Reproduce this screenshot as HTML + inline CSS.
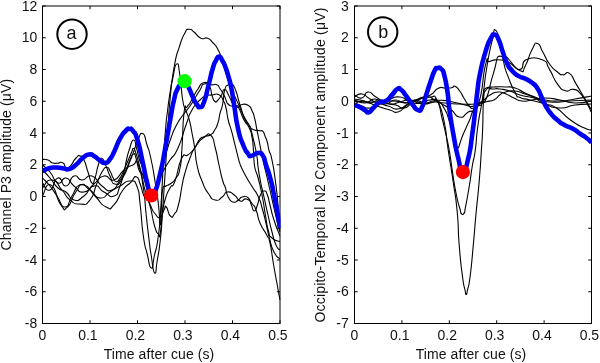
<!DOCTYPE html>
<html><head><meta charset="utf-8"><title>Figure</title>
<style>html,body{margin:0;padding:0;background:#fff;width:600px;height:363px;overflow:hidden}</style></head>
<body>
<svg width="600" height="363" viewBox="0 0 600 363" style="display:block;position:absolute;left:0;top:0">
<rect width="600" height="363" fill="#fff"/>
<rect x="42.5" y="6.0" width="237.5" height="317.5" fill="#fff" stroke="#000" stroke-width="1"/><path d="M42.50,323.5v-3.2M42.50,6.0v3.2M90.00,323.5v-3.2M90.00,6.0v3.2M137.50,323.5v-3.2M137.50,6.0v3.2M185.00,323.5v-3.2M185.00,6.0v3.2M232.50,323.5v-3.2M232.50,6.0v3.2M280.00,323.5v-3.2M280.00,6.0v3.2M42.5,6.00h3.2M280.0,6.00h-3.2M42.5,37.75h3.2M280.0,37.75h-3.2M42.5,69.50h3.2M280.0,69.50h-3.2M42.5,101.25h3.2M280.0,101.25h-3.2M42.5,133.00h3.2M280.0,133.00h-3.2M42.5,164.75h3.2M280.0,164.75h-3.2M42.5,196.50h3.2M280.0,196.50h-3.2M42.5,228.25h3.2M280.0,228.25h-3.2M42.5,260.00h3.2M280.0,260.00h-3.2M42.5,291.75h3.2M280.0,291.75h-3.2M42.5,323.50h3.2M280.0,323.50h-3.2" stroke="#000" stroke-width="1" fill="none"/>
<rect x="354.5" y="6.0" width="237.0" height="317.5" fill="#fff" stroke="#000" stroke-width="1"/><path d="M354.50,323.5v-3.2M354.50,6.0v3.2M401.90,323.5v-3.2M401.90,6.0v3.2M449.30,323.5v-3.2M449.30,6.0v3.2M496.70,323.5v-3.2M496.70,6.0v3.2M544.10,323.5v-3.2M544.10,6.0v3.2M591.50,323.5v-3.2M591.50,6.0v3.2M354.5,6.00h3.2M591.5,6.00h-3.2M354.5,37.75h3.2M591.5,37.75h-3.2M354.5,69.50h3.2M591.5,69.50h-3.2M354.5,101.25h3.2M591.5,101.25h-3.2M354.5,133.00h3.2M591.5,133.00h-3.2M354.5,164.75h3.2M591.5,164.75h-3.2M354.5,196.50h3.2M591.5,196.50h-3.2M354.5,228.25h3.2M591.5,228.25h-3.2M354.5,260.00h3.2M591.5,260.00h-3.2M354.5,291.75h3.2M591.5,291.75h-3.2M354.5,323.50h3.2M591.5,323.50h-3.2" stroke="#000" stroke-width="1" fill="none"/>
<clipPath id="cl"><rect x="42.5" y="6.0" width="238.0" height="317.5"/></clipPath>
<clipPath id="cr"><rect x="354.5" y="6.0" width="237.5" height="317.5"/></clipPath>
<g clip-path="url(#cl)" fill="none" stroke-linejoin="round" stroke-linecap="butt">
<path d="M42.5,178.0C45.0,180.7 45.2,180.0 50.0,186.0C54.8,192.0 52.0,189.0 57.0,196.0C62.0,203.0 60.0,207.0 65.0,207.0C70.0,207.0 67.0,203.3 72.0,196.0C77.0,188.7 74.0,187.0 80.0,185.0C86.0,183.0 83.3,185.7 90.0,190.0C96.7,194.3 93.3,197.3 100.0,198.0C106.7,198.7 103.3,196.0 110.0,192.0C116.7,188.0 113.3,189.7 120.0,186.0C126.7,182.3 124.3,180.7 130.0,181.0C135.7,181.3 133.8,179.0 137.2,187.0C140.2,195.0 138.2,189.0 140.2,205.0C142.2,221.0 140.9,218.7 143.2,235.0C145.5,251.3 144.5,243.0 147.2,254.0C149.9,265.0 148.9,267.3 151.3,268.0C153.7,268.7 152.0,266.7 154.3,256.0C156.6,245.3 156.1,253.0 158.3,236.0C160.5,219.0 159.3,230.3 161.0,205.0C162.7,179.7 162.0,185.0 163.5,160.0C165.0,135.0 164.2,146.0 165.5,130.0C166.8,114.0 165.9,124.3 167.4,112.0C168.9,99.7 168.2,104.1 170.0,93.0C171.8,81.9 170.5,88.5 172.7,78.8C174.9,69.1 174.3,64.9 176.7,64.0C179.1,63.1 178.0,64.0 180.0,76.0C182.0,88.0 180.7,88.4 182.7,100.0C184.7,111.6 183.8,104.0 186.0,110.7C188.2,117.4 187.3,112.6 189.3,120.0C191.3,127.4 190.2,123.7 192.0,133.0C193.8,142.3 193.0,137.3 194.7,148.0C196.4,158.7 194.7,154.0 197.0,165.0C199.4,176.0 198.3,171.7 202.0,181.0C205.7,190.3 203.6,186.7 208.0,193.0C212.4,199.3 210.5,198.7 215.2,200.0C219.9,201.3 218.2,199.7 222.2,197.0C226.2,194.3 223.2,192.7 227.2,192.0C231.2,191.3 229.9,192.0 234.3,195.0C238.7,198.0 236.3,199.7 240.3,201.0C244.3,202.3 242.3,198.0 246.3,199.0C250.3,200.0 249.0,200.0 252.4,204.0C255.8,208.0 253.9,204.7 256.4,211.0C258.9,217.3 256.6,215.0 260.0,223.0C263.4,231.0 263.4,228.3 266.7,235.0C270.0,241.7 267.8,233.7 270.0,243.0C272.2,252.3 271.1,250.0 273.3,263.0C275.5,276.0 274.5,269.7 276.7,282.0C278.9,294.3 278.9,294.0 280.0,300.0" stroke="#000" stroke-width="1.1"/>
<path d="M42.5,188.0C45.7,185.3 45.5,179.3 52.0,180.0C58.5,180.7 56.0,183.3 62.0,190.0C68.0,196.7 64.0,195.3 70.0,200.0C76.0,204.7 73.3,204.0 80.0,204.0C86.7,204.0 84.4,206.7 90.0,200.0C95.6,193.3 92.7,193.3 96.7,184.0C100.7,174.7 98.7,177.5 102.0,172.0C105.3,166.5 104.0,167.8 106.7,167.5C109.4,167.2 107.8,167.4 110.0,171.0C112.2,174.6 111.1,174.7 113.3,178.3C115.5,181.9 114.5,181.8 116.7,181.7C118.9,181.6 117.8,181.3 120.0,178.0C122.2,174.7 120.5,177.7 123.3,171.7C126.1,165.7 125.5,166.6 128.3,160.0C131.1,153.4 130.0,155.8 131.7,152.0C133.3,148.2 132.0,148.5 133.3,148.5C134.6,148.5 133.6,146.8 135.5,152.0C137.4,157.2 136.8,156.0 139.0,164.0C141.2,172.0 140.0,167.3 142.0,176.0C144.0,184.7 142.2,180.3 145.0,190.0C147.8,199.7 146.9,197.0 150.3,205.0C153.7,213.0 152.0,210.0 155.3,214.0C158.6,218.0 157.4,218.3 160.3,217.0C163.2,215.7 162.0,213.3 164.0,210.0C166.0,206.7 164.2,205.0 166.3,207.0C168.4,209.0 167.7,213.7 170.4,216.0C173.1,218.3 171.7,217.7 174.4,214.0C177.1,210.3 175.9,214.3 178.4,205.0C180.9,195.7 180.0,196.0 182.0,186.0C184.0,176.0 182.0,184.3 184.4,175.0C187.1,165.7 186.1,167.7 190.0,158.0C193.9,148.3 191.3,152.8 196.0,146.0C200.7,139.2 199.0,141.0 204.0,137.5C209.0,134.0 207.2,132.0 211.0,135.5C214.8,139.0 212.6,138.2 215.3,148.0C218.0,157.8 216.5,154.0 219.0,165.0C221.5,176.0 220.7,173.7 222.8,181.0C224.9,188.3 223.4,181.7 225.2,187.0C227.0,192.3 225.5,192.0 228.2,197.0C230.9,202.0 229.9,201.0 233.3,202.0C236.7,203.0 235.3,201.7 238.3,200.0C241.3,198.3 239.0,197.7 242.3,197.0C245.6,196.3 245.3,195.3 248.3,198.0C251.3,200.7 249.4,200.7 251.4,205.0C253.4,209.3 252.4,211.0 254.4,211.0C256.4,211.0 255.4,210.3 257.4,205.0C259.4,199.7 258.1,199.7 260.4,195.0C262.7,190.3 262.1,191.0 264.4,191.0C266.7,191.0 265.5,190.3 267.4,195.0C269.3,199.7 267.8,196.7 270.0,205.0C272.2,213.3 270.7,209.7 274.0,220.0C277.3,230.3 278.0,230.7 280.0,236.0" stroke="#000" stroke-width="1.1"/>
<path d="M42.5,196.0C45.3,192.3 45.0,182.2 51.0,185.0C57.0,187.8 55.1,197.0 60.6,204.3C66.1,211.6 62.4,211.1 67.5,207.0C72.6,202.9 70.3,199.3 75.8,192.0C81.3,184.7 77.6,183.7 84.0,185.0C90.4,186.3 87.7,188.7 95.0,196.0C102.3,203.3 99.6,204.2 106.0,207.0C112.4,209.8 108.8,209.8 114.3,204.3C119.8,198.8 117.1,197.8 122.6,190.5C128.1,183.2 126.2,186.9 130.8,182.3C135.4,177.7 133.1,175.9 136.3,176.8C139.5,177.7 137.9,178.6 140.5,185.0C143.1,191.4 141.1,190.0 144.0,196.0C146.9,202.0 145.8,193.3 149.2,203.0C152.6,212.7 151.3,214.7 154.3,225.0C157.3,235.3 156.3,231.3 158.3,234.0C160.3,236.7 159.0,239.3 160.3,233.0C161.6,226.7 160.7,226.0 162.3,215.0C163.9,204.0 162.4,209.0 165.0,200.0C167.6,191.0 166.7,194.3 170.0,188.0C173.3,181.7 171.2,190.7 175.0,181.0C178.8,171.3 177.2,167.7 181.4,159.0C185.6,150.3 183.5,158.3 187.7,155.0C191.9,151.7 190.1,154.1 194.0,149.0C197.9,143.9 196.0,143.9 199.3,139.8C202.6,135.7 200.2,138.4 204.0,136.7C207.8,135.0 207.1,136.9 210.7,134.7C214.3,132.5 212.3,134.0 214.7,130.0C217.1,126.0 216.2,128.3 218.0,122.7C219.8,117.1 218.4,119.5 220.0,113.3C221.6,107.1 221.1,111.8 222.7,104.0C224.3,96.2 222.9,96.3 224.7,90.0C226.5,83.7 225.6,87.0 228.0,85.0C230.4,83.0 229.3,81.9 232.0,84.0C234.7,86.1 233.8,85.7 236.0,91.3C238.2,96.9 237.0,95.1 238.7,100.7C240.4,106.3 238.9,101.6 241.0,108.0C243.1,114.4 242.3,114.1 245.0,120.0C247.7,125.9 247.0,121.9 249.2,125.8C251.4,129.7 250.0,126.6 251.5,131.7C253.0,136.8 252.4,135.2 253.8,141.0C255.2,146.8 254.5,143.5 255.6,149.2C256.7,154.9 256.5,152.7 257.2,158.0C257.8,163.3 257.2,157.3 257.8,165.0C258.9,172.7 258.3,170.3 260.4,181.0C262.5,191.7 261.5,185.7 264.0,197.0C266.5,208.3 265.3,203.3 268.0,215.0C270.7,226.7 269.3,222.0 272.0,232.0C274.7,242.0 273.3,239.0 276.0,245.0C278.7,251.0 278.7,248.3 280.0,250.0" stroke="#000" stroke-width="1.1"/>
<path d="M42.5,159.3C44.3,159.5 44.8,158.9 48.0,160.0C51.2,161.1 48.9,161.6 52.0,162.7C55.1,163.8 53.7,163.3 57.3,163.3C60.9,163.3 59.1,161.1 62.7,162.7C66.3,164.3 63.6,169.6 68.0,168.0C72.4,166.4 72.0,162.0 76.0,158.0C80.0,154.0 77.3,155.3 80.0,156.0C82.7,156.7 81.3,154.7 84.0,160.0C86.7,165.3 85.3,164.3 88.0,172.0C90.7,179.7 89.7,181.0 92.0,183.0C94.3,185.0 92.9,184.0 95.0,178.0C97.1,172.0 96.1,171.6 98.3,165.0C100.5,158.4 99.1,158.0 101.7,158.3C104.3,158.6 103.2,160.1 106.0,166.0C108.8,171.9 107.0,170.0 110.0,176.0C113.0,182.0 110.8,183.3 115.0,184.0C119.2,184.7 117.3,186.3 122.6,178.0C127.9,169.7 126.0,170.7 130.8,159.0C135.6,147.3 133.1,151.5 137.0,143.0C140.9,134.5 139.2,132.8 142.5,133.5C145.8,134.2 144.2,136.5 147.0,145.0C149.8,153.5 148.1,145.7 151.0,159.0C153.9,172.3 153.1,169.7 155.6,185.0C158.1,200.3 156.9,191.7 158.5,205.0C160.1,218.3 159.3,225.0 160.3,225.0C161.3,225.0 160.8,216.7 161.5,205.0C162.2,193.3 161.5,196.3 162.5,190.0C164.0,183.7 163.5,188.0 166.0,186.0C168.5,184.0 166.7,186.7 170.0,184.0C173.3,181.3 172.7,183.3 176.0,178.0C179.3,172.7 178.0,178.0 180.0,168.0C182.0,158.0 180.7,166.3 182.0,148.0C183.3,129.7 182.3,126.7 184.0,113.0C185.7,99.3 185.0,110.3 187.0,107.0C189.0,103.7 187.9,106.4 190.0,103.0C192.1,99.6 190.6,101.4 193.3,96.7C196.0,92.0 194.7,93.7 198.0,89.0C201.3,84.3 199.1,84.1 203.3,82.7C207.5,81.3 206.2,84.0 210.7,84.7C215.2,85.4 213.6,83.4 216.7,84.7C219.8,86.0 217.6,85.2 220.0,88.7C222.4,92.2 222.0,91.5 224.0,95.3C226.0,99.1 224.7,97.1 226.0,100.0C227.3,102.9 226.0,102.0 228.0,104.0C230.0,106.0 229.3,105.3 232.0,106.0C234.7,106.7 233.8,105.3 236.0,106.0C238.2,106.7 236.0,103.3 238.7,108.0C241.4,112.7 240.5,113.3 244.0,120.0C247.5,126.7 246.6,122.2 249.3,128.0C252.0,133.8 250.7,130.6 252.0,137.3C253.3,144.0 252.5,138.8 253.3,148.0C254.1,157.2 253.3,154.7 254.4,165.0C256.1,175.3 255.7,168.3 258.4,179.0C261.1,189.7 260.1,185.0 262.4,197.0C264.7,209.0 263.4,203.7 265.4,215.0C267.4,226.3 266.2,223.3 268.4,231.0C270.6,238.7 268.4,234.4 272.0,238.0C275.9,241.6 277.3,240.5 280.0,241.7" stroke="#000" stroke-width="1.1"/>
<path d="M42.5,170.0C45.0,172.7 44.8,172.0 50.0,178.0C55.2,184.0 52.7,183.3 58.0,188.0C63.3,192.7 60.7,188.0 66.0,192.0C71.3,196.0 68.0,198.7 74.0,200.0C80.0,201.3 77.3,200.7 84.0,196.0C90.7,191.3 87.3,187.3 94.0,186.0C100.7,184.7 97.3,188.7 104.0,192.0C110.7,195.3 108.7,198.0 114.0,196.0C119.3,194.0 116.7,194.0 120.0,186.0C123.3,178.0 121.8,180.7 124.0,172.0C126.2,163.3 124.7,167.7 126.5,160.0C128.3,152.3 127.2,155.7 129.5,149.0C131.8,142.3 131.2,140.3 133.5,140.0C135.8,139.7 134.5,141.3 136.5,148.0C138.5,154.7 137.4,153.3 139.5,160.0C141.6,166.7 140.4,160.0 142.8,168.0C145.2,176.0 144.1,174.3 146.8,184.0C149.5,193.7 148.1,193.3 150.8,197.0C153.5,200.7 152.1,200.7 154.8,195.0C157.5,189.3 156.3,191.0 159.0,180.0C161.7,169.0 160.3,172.0 163.0,162.0C165.7,152.0 164.3,158.0 167.0,150.0C169.7,142.0 168.0,146.0 171.0,138.0C174.0,130.0 172.0,133.7 176.0,126.0C180.0,118.3 178.3,121.7 183.0,115.0C187.7,108.3 186.0,111.7 190.0,106.0C194.0,100.3 191.7,103.3 195.0,98.0C198.3,92.7 197.0,94.7 200.0,90.0C203.0,85.3 200.7,84.9 204.0,84.0C207.3,83.1 207.3,83.5 210.0,87.3C212.0,91.1 210.4,90.6 212.0,95.3C213.6,100.0 212.7,99.7 214.7,101.3C216.7,102.9 215.8,102.0 218.0,100.0C220.2,98.0 219.1,98.8 221.3,95.3C223.5,91.8 222.1,89.3 224.7,89.5C227.3,89.7 226.2,91.2 229.0,96.0C231.8,100.8 230.2,100.2 233.0,104.0C235.8,107.8 234.5,107.1 237.3,107.3C240.1,107.5 237.7,105.4 241.3,104.7C244.9,104.0 244.4,103.3 248.0,105.3C251.6,107.3 249.8,106.2 252.0,110.7C254.2,115.2 253.1,112.5 254.7,118.7C256.3,124.9 255.5,123.0 256.8,129.3C258.1,135.6 257.3,131.7 258.5,137.5C259.7,143.3 258.8,139.3 260.3,146.8C261.8,154.3 260.9,150.6 263.0,160.0C265.1,169.4 264.2,165.0 266.5,175.0C268.8,185.0 267.5,179.0 270.0,190.0C272.5,201.0 271.3,196.3 274.0,208.0C276.7,219.7 276.0,217.0 278.0,225.0C280.0,233.0 279.3,229.7 280.0,232.0" stroke="#000" stroke-width="1.1"/>
<path d="M42.5,165.0C45.0,167.3 44.8,166.0 50.0,172.0C55.2,178.0 52.7,181.0 58.0,183.0C63.3,185.0 60.7,177.0 66.0,178.0C71.3,179.0 68.0,181.3 74.0,186.0C80.0,190.7 77.3,192.7 84.0,192.0C90.7,191.3 87.3,189.3 94.0,184.0C100.7,178.7 97.3,177.3 104.0,176.0C110.7,174.7 107.3,182.0 114.0,180.0C120.7,178.0 117.7,175.0 124.0,170.0C130.3,165.0 128.3,167.0 133.0,165.0C137.7,163.0 134.6,156.7 138.0,164.0C141.4,171.3 140.5,170.0 143.2,187.0C145.9,204.0 144.2,197.0 146.2,215.0C148.2,233.0 147.5,227.3 149.2,241.0C150.9,254.7 149.5,245.3 151.3,256.0C153.1,266.7 152.7,271.7 154.7,273.0C156.7,274.3 155.4,271.0 157.3,260.0C159.2,249.0 158.6,255.0 160.3,240.0C162.0,225.0 161.1,231.7 162.3,215.0C163.5,198.3 162.8,208.3 164.0,190.0C165.2,171.7 164.7,180.0 166.0,160.0C167.3,140.0 166.7,150.0 168.0,130.0C169.3,110.0 168.0,120.7 170.0,100.0C172.0,79.3 170.9,85.8 174.0,68.0C177.1,50.2 175.8,58.2 179.4,46.7C183.0,35.2 181.6,39.2 184.7,33.4C187.8,27.6 185.7,29.8 188.8,29.3C191.9,28.8 190.0,29.0 194.0,32.0C198.0,35.0 196.3,36.1 200.8,38.2C205.3,40.3 203.5,36.7 207.5,38.2C211.5,39.7 209.3,39.0 212.8,42.7C216.3,46.4 214.9,43.6 218.0,49.4C221.1,55.2 219.3,52.0 222.0,60.0C224.7,68.0 222.8,63.6 226.0,73.4C229.2,83.2 228.5,81.5 231.5,89.4C234.5,97.3 232.6,91.9 235.0,97.0C237.4,102.1 236.1,99.0 238.7,104.7C241.3,110.4 239.2,107.1 242.7,114.0C246.2,120.9 246.0,120.2 249.3,125.3C252.6,130.4 249.3,127.5 252.7,129.3C256.3,131.1 256.6,130.0 260.0,130.7C262.9,131.4 261.2,129.6 262.9,131.4C264.6,133.2 263.5,132.4 265.0,136.0C266.5,139.6 266.0,137.4 267.3,142.2C268.6,147.0 267.5,144.5 269.0,150.3C270.5,156.1 269.8,149.5 271.9,159.7C274.0,169.9 273.4,165.9 275.4,181.0C277.4,196.1 276.5,188.7 278.0,205.0C279.5,221.3 279.3,221.7 280.0,230.0" stroke="#000" stroke-width="1.1"/>
<path d="M42.5,183.0C45.0,185.3 44.8,191.7 50.0,190.0C55.2,188.3 52.7,179.3 58.0,178.0C63.3,176.7 60.7,186.7 66.0,186.0C71.3,185.3 68.7,178.0 74.0,176.0C79.3,174.0 76.0,180.0 82.0,180.0C88.0,180.0 85.3,174.0 92.0,176.0C98.7,178.0 95.3,181.3 102.0,186.0C108.7,190.7 106.0,192.0 112.0,190.0C118.0,188.0 115.3,186.7 120.0,180.0C124.7,173.3 122.7,176.7 126.0,170.0C129.3,163.3 127.5,165.3 130.0,160.0C132.5,154.7 131.5,154.7 133.5,154.0C135.5,153.3 134.2,152.7 136.0,158.0C137.8,163.3 136.7,164.3 139.0,170.0C141.3,175.7 140.2,169.0 142.8,175.0C145.4,181.0 144.1,180.0 146.8,188.0C149.5,196.0 148.1,196.3 150.8,199.0C153.5,201.7 152.4,200.3 154.8,196.0C157.2,191.7 155.9,192.7 158.0,186.0C160.1,179.3 158.7,182.0 161.0,176.0C163.3,170.0 162.0,173.3 165.0,168.0C168.0,162.7 165.7,166.7 170.0,160.0C174.3,153.3 172.7,159.7 178.0,148.0C183.3,136.3 181.3,137.7 186.0,125.0C190.7,112.3 187.3,118.3 192.0,110.0C196.7,101.7 195.3,104.7 200.0,100.0C204.7,95.3 202.0,97.7 206.0,96.0C210.0,94.3 207.7,95.4 212.0,95.0C216.3,94.6 215.3,93.0 219.0,94.7C222.7,96.4 220.7,95.6 223.0,100.0C225.3,104.4 224.3,101.3 226.0,108.0C227.7,114.7 226.3,112.1 228.2,120.0C230.1,127.9 229.4,123.1 231.7,131.7C234.0,140.3 232.9,136.4 235.2,145.7C237.5,155.0 237.0,153.3 238.7,159.7C240.3,166.1 238.7,159.2 240.3,165.0C242.8,170.8 242.3,169.7 246.3,177.0C250.3,184.3 248.4,180.3 252.4,187.0C256.4,193.7 255.1,189.7 258.4,197.0C261.7,204.3 259.7,199.7 262.4,209.0C265.1,218.3 264.1,215.3 266.4,225.0C268.7,234.7 266.9,229.0 269.4,238.0C271.9,247.0 270.5,245.0 274.0,252.0C277.5,259.0 278.0,256.7 280.0,259.0" stroke="#000" stroke-width="1.1"/>
<path d="M42.5,171.0C44.8,170.1 44.8,169.5 49.3,168.3C53.8,167.1 51.5,167.5 56.0,167.5C60.5,167.5 58.3,167.7 62.7,168.2C67.1,168.7 64.9,170.2 69.3,169.0C73.7,167.8 71.5,168.4 76.0,164.7C80.5,161.0 78.3,161.4 82.7,158.0C87.1,154.6 85.3,155.0 89.3,154.5C93.3,154.0 91.1,154.5 94.7,156.5C98.3,158.5 96.4,158.4 100.0,160.5C103.6,162.6 102.2,163.3 105.5,162.8C108.8,162.3 107.0,162.9 110.0,159.0C113.0,155.1 111.2,157.8 114.5,151.0C117.8,144.2 116.2,145.5 120.0,138.7C123.8,131.9 122.8,133.7 126.0,130.5C129.2,127.3 127.2,128.8 129.5,129.0C131.8,129.2 130.3,127.3 133.0,131.0C135.7,134.7 134.2,129.4 137.5,140.0C140.8,150.6 139.7,148.9 142.8,162.7C145.9,176.5 144.1,171.0 146.8,181.4C149.5,191.8 148.1,190.5 150.8,194.0C153.5,197.5 151.7,198.9 154.8,192.0C157.9,185.1 156.6,188.5 160.2,173.4C163.8,158.3 162.1,165.2 165.5,146.7C168.9,128.2 167.7,133.6 170.5,118.0C173.3,102.4 171.8,109.3 174.0,100.0C176.2,90.7 174.4,95.7 177.0,90.0C179.6,84.3 179.1,85.8 181.7,83.0C184.3,80.2 182.5,80.3 184.7,81.5C186.9,82.7 185.4,81.1 188.3,86.7C191.2,92.3 190.4,92.4 193.3,98.3C196.2,104.2 194.8,101.6 197.0,104.5C199.2,107.4 197.7,107.8 200.0,107.0C202.3,106.2 201.1,109.3 204.0,102.0C206.9,94.7 205.7,96.0 208.6,85.0C211.5,74.0 210.1,77.2 212.6,69.0C215.1,60.8 213.8,64.6 216.0,60.5C218.2,56.4 217.1,56.4 219.3,56.6C221.5,56.8 220.6,57.9 222.5,61.0C224.4,64.1 223.0,60.8 225.0,66.0C227.0,71.2 226.3,68.7 228.5,76.7C230.7,84.7 229.8,80.2 231.7,90.0C233.6,99.8 232.3,93.5 234.3,106.0C236.3,118.5 235.0,114.9 237.8,127.6C240.6,140.3 239.4,135.4 242.8,144.0C246.2,152.6 245.0,149.6 247.9,153.5C250.8,157.4 248.3,155.9 251.6,155.7C254.9,155.5 254.1,153.0 257.9,153.0C261.7,153.0 260.2,151.7 262.9,155.7C265.6,159.7 263.5,157.2 266.0,165.0C268.5,172.8 267.8,169.0 270.5,179.0C273.2,189.0 271.7,183.7 274.0,195.0C276.3,206.3 275.5,202.0 277.5,213.0C279.5,224.0 279.2,223.0 280.0,228.0" stroke="#0000f5" stroke-width="4.6"/>
</g>
<g clip-path="url(#cr)" fill="none" stroke-linejoin="round" stroke-linecap="butt">
<path d="M354.5,100.0C358.0,101.0 358.2,103.3 365.0,103.0C371.8,102.7 368.3,98.7 375.0,99.0C381.7,99.3 378.3,103.7 385.0,104.0C391.7,104.3 388.3,100.3 395.0,100.0C401.7,99.7 398.3,103.0 405.0,103.0C411.7,103.0 408.3,100.0 415.0,100.0C421.7,100.0 419.0,102.7 425.0,103.0C431.0,103.3 428.7,101.3 433.0,101.0C437.3,100.7 434.3,95.0 438.0,102.0C441.7,109.0 440.8,106.0 444.2,122.0C447.6,138.0 445.2,130.0 448.2,150.0C451.2,170.0 450.2,161.3 453.2,182.0C456.2,202.7 455.2,191.0 457.2,212.0C459.2,233.0 457.5,224.0 459.2,245.0C460.9,266.0 460.4,260.0 462.3,275.0C464.2,290.0 463.7,283.7 465.0,290.0C466.2,296.3 465.4,294.0 466.2,294.0C467.0,294.0 466.2,296.3 467.5,290.0C468.9,283.7 468.4,290.0 470.3,275.0C472.2,260.0 471.4,265.0 473.3,245.0C475.2,225.0 473.9,236.7 475.9,215.0C477.9,193.3 477.5,201.7 479.3,180.0C481.1,158.3 480.3,166.7 481.4,150.0C482.5,133.3 481.9,146.0 482.6,130.0C483.3,114.0 482.6,115.3 483.4,102.0C484.5,88.7 483.4,94.3 486.0,90.0C489.2,85.7 488.3,89.3 493.0,89.0C497.7,88.7 494.3,88.3 500.0,89.0C505.7,89.7 503.3,89.0 510.0,91.0C516.7,93.0 512.0,92.7 520.0,95.0C528.0,97.3 524.0,95.7 534.0,98.0C544.0,100.3 538.0,101.0 550.0,102.0C562.0,103.0 556.2,101.7 570.0,101.0C583.8,100.3 584.3,100.3 591.5,100.0" stroke="#000" stroke-width="1.1"/>
<path d="M354.5,97.0C357.0,96.0 356.8,93.3 362.0,94.0C367.2,94.7 364.0,96.0 370.0,99.0C376.0,102.0 373.3,103.0 380.0,103.0C386.7,103.0 383.3,101.0 390.0,99.0C396.7,97.0 393.3,96.3 400.0,97.0C406.7,97.7 403.3,100.3 410.0,101.0C416.7,101.7 413.3,100.3 420.0,99.0C426.7,97.7 424.3,96.7 430.0,97.0C435.7,97.3 433.0,93.0 437.0,100.0C441.0,107.0 439.0,106.3 442.0,118.0C445.0,129.7 443.6,124.3 446.0,135.0C448.4,145.7 447.1,138.3 449.2,150.0C451.3,161.7 449.9,155.3 452.2,170.0C454.5,184.7 453.5,180.7 456.2,194.0C458.9,207.3 458.5,203.5 460.3,210.0C461.5,216.5 460.7,211.9 461.5,213.4C462.3,214.9 461.9,214.6 462.7,214.5C463.5,214.4 463.1,215.2 464.0,213.0C464.9,210.8 464.0,217.0 465.3,208.0C467.1,199.0 467.0,200.0 469.3,186.0C471.6,172.0 470.3,178.0 472.3,166.0C474.3,154.0 473.4,163.7 475.3,150.0C477.2,136.3 475.5,142.5 478.0,125.0C480.5,107.5 479.8,116.5 482.7,97.5C485.6,78.5 483.6,86.7 486.7,68.0C489.8,49.3 488.9,53.8 492.0,41.4C495.1,29.0 493.0,28.0 496.1,30.7C499.2,33.4 497.0,39.6 501.4,49.4C505.8,59.2 503.2,52.9 509.4,60.0C515.6,67.1 514.7,68.9 520.1,70.7C525.5,72.5 521.5,72.5 525.5,65.4C529.5,58.3 528.1,56.7 532.1,49.4C536.1,42.1 533.9,42.6 537.5,43.5C541.1,44.4 538.8,45.2 542.8,52.0C546.8,58.8 544.6,57.3 549.5,64.0C554.4,70.7 553.0,68.4 557.5,72.0C562.0,75.6 558.9,74.3 562.9,74.8C566.9,75.3 565.1,70.3 569.5,73.4C573.9,76.5 571.3,76.1 576.2,84.1C581.1,92.1 579.1,88.9 584.2,97.5C589.3,106.1 589.1,105.8 591.5,110.0" stroke="#000" stroke-width="1.1"/>
<path d="M354.5,103.0C357.0,104.0 356.8,104.3 362.0,106.0C367.2,107.7 364.7,108.7 370.0,108.0C375.3,107.3 372.0,104.7 378.0,104.0C384.0,103.3 381.3,104.3 388.0,106.0C394.7,107.7 391.3,109.7 398.0,109.0C404.7,108.3 401.3,107.3 408.0,104.0C414.7,100.7 411.3,101.3 418.0,99.0C424.7,96.7 422.0,96.3 428.0,97.0C434.0,97.7 428.6,97.0 436.0,101.0C443.4,105.0 442.5,103.7 450.2,109.0C457.9,114.3 453.2,116.0 459.2,117.0C465.2,118.0 461.9,116.3 468.3,112.0C474.7,107.7 472.6,119.5 478.3,104.0C484.0,88.5 481.7,79.6 485.4,65.4C489.1,51.2 485.4,63.2 489.4,61.4C494.7,59.6 494.7,59.6 501.4,60.0C508.1,60.4 503.2,59.6 509.4,62.7C515.6,65.8 514.7,70.3 520.1,69.4C525.5,68.5 520.1,63.1 525.5,60.0C533.1,56.9 534.8,56.9 542.8,60.0C549.5,63.1 544.6,61.4 549.5,69.4C554.4,77.4 552.2,77.0 557.5,84.1C562.8,91.2 560.2,89.0 565.5,90.8C570.8,92.6 568.2,88.1 573.5,89.4C578.8,90.7 576.2,88.6 581.5,94.8C586.8,101.0 586.2,102.4 589.5,108.1C591.5,113.8 590.8,110.7 591.5,112.0" stroke="#000" stroke-width="1.1"/>
<path d="M354.5,99.0C357.7,99.7 358.2,99.3 364.0,101.0C369.8,102.7 366.7,102.0 372.0,104.0C377.3,106.0 374.0,105.0 380.0,107.0C386.0,109.0 384.0,108.3 390.0,110.0C396.0,111.7 392.7,113.3 398.0,112.0C403.3,110.7 400.7,109.7 406.0,106.0C411.3,102.3 408.0,101.7 414.0,101.0C420.0,100.3 417.3,103.7 424.0,104.0C430.7,104.3 427.0,102.3 434.0,102.0C441.0,101.7 436.3,102.3 445.0,103.0C453.7,103.7 450.0,103.7 460.0,104.0C470.0,104.3 467.7,104.7 475.0,104.0C482.0,103.3 478.1,104.2 482.0,102.0C485.9,99.8 482.9,107.0 486.7,97.5C490.5,88.0 488.9,87.2 493.4,73.4C497.9,59.6 495.6,56.1 500.1,56.1C504.6,56.1 501.9,61.4 506.8,73.4C511.7,85.4 510.4,84.1 514.8,92.1C519.2,100.1 515.0,94.9 520.1,97.5C525.2,100.1 521.7,97.8 530.0,100.0C538.3,102.2 536.2,101.3 545.0,104.0C553.8,106.7 547.9,102.7 556.4,108.0C564.9,113.3 561.1,113.3 570.5,120.0C579.9,126.7 577.5,124.7 584.5,128.0C591.5,131.3 589.2,129.3 591.5,130.0" stroke="#000" stroke-width="1.1"/>
<path d="M354.5,101.0C359.7,101.3 358.2,102.0 370.0,102.0C381.8,102.0 376.7,100.7 390.0,101.0C403.3,101.3 397.0,102.3 410.0,103.0C423.0,103.7 419.6,103.9 429.0,103.0C438.3,102.1 430.7,100.7 438.3,100.3C445.9,99.9 442.8,100.1 451.7,101.7C460.6,103.3 457.9,103.5 465.0,105.0C472.1,106.5 467.2,107.0 473.0,106.3C478.8,105.6 477.9,104.5 482.3,103.0C486.3,101.5 482.3,102.8 486.3,101.7C490.3,100.6 489.8,101.9 494.3,99.7C498.8,97.5 496.1,97.5 499.7,95.0C503.3,92.5 499.9,93.6 505.0,92.3C510.1,91.0 508.3,90.4 515.0,91.0C521.7,91.6 518.3,91.7 525.0,94.0C531.7,96.3 528.3,94.7 535.0,98.0C541.7,101.3 536.7,100.7 545.0,104.0C553.3,107.3 550.0,107.7 560.0,108.0C570.0,108.3 564.5,106.3 575.0,105.0C585.5,103.7 586.0,104.3 591.5,104.0" stroke="#000" stroke-width="1.1"/>
<path d="M354.5,95.0C357.0,96.0 357.5,99.0 362.0,98.0C366.5,97.0 363.3,92.3 368.0,92.0C372.7,91.7 370.0,93.3 376.0,97.0C382.0,100.7 379.3,100.3 386.0,103.0C392.7,105.7 390.0,103.3 396.0,105.0C402.0,106.7 398.7,108.7 404.0,108.0C409.3,107.3 406.7,106.0 412.0,103.0C417.3,100.0 413.9,101.7 420.0,99.0C426.1,96.3 424.2,98.6 430.3,95.0C436.4,91.4 433.4,90.6 438.3,88.3C443.2,86.0 440.5,88.2 445.0,88.0C449.5,87.8 448.4,88.3 451.7,87.7C455.0,87.1 452.3,85.2 455.0,86.3C457.7,87.4 456.8,87.2 459.7,91.0C462.6,94.8 460.6,92.8 463.7,97.7C466.8,102.6 465.9,102.2 469.0,105.7C472.1,109.2 470.0,108.2 473.0,108.3C476.0,108.4 474.9,107.8 478.0,106.0C481.1,104.2 480.4,107.6 482.3,103.0C483.7,98.4 482.6,97.2 483.7,92.3C484.8,87.4 483.7,90.1 485.7,88.3C489.2,86.5 487.9,87.4 494.3,87.0C500.7,86.6 498.1,86.7 505.0,87.0C511.9,87.3 508.3,86.0 515.0,88.0C521.7,90.0 518.3,90.0 525.0,93.0C531.7,96.0 528.3,94.7 535.0,97.0C541.7,99.3 536.7,98.7 545.0,100.0C553.3,101.3 550.0,101.3 560.0,101.0C570.0,100.7 564.5,100.7 575.0,99.0C585.5,97.3 586.0,97.0 591.5,96.0" stroke="#000" stroke-width="1.1"/>
<path d="M354.5,104.0C357.0,103.0 356.8,101.3 362.0,101.0C367.2,100.7 364.0,103.3 370.0,103.0C376.0,102.7 373.3,99.7 380.0,100.0C386.7,100.3 383.3,103.3 390.0,104.0C396.7,104.7 393.3,103.3 400.0,102.0C406.7,100.7 403.3,99.7 410.0,100.0C416.7,100.3 413.3,103.0 420.0,103.0C426.7,103.0 424.0,100.7 430.0,100.0C436.0,99.3 433.3,98.3 438.0,101.0C442.7,103.7 440.3,101.7 444.0,108.0C447.7,114.3 446.0,111.0 449.0,120.0C452.0,129.0 450.7,126.7 453.0,135.0C455.3,143.3 454.3,140.7 456.0,145.0C457.7,149.3 456.7,148.7 458.0,148.0C459.3,147.3 458.5,147.0 460.0,143.0C461.5,139.0 460.5,141.0 462.5,136.0C464.5,131.0 463.5,133.7 466.0,128.0C468.5,122.3 468.0,124.0 470.0,119.0C472.0,114.0 470.3,117.0 472.0,113.0C473.7,109.0 472.7,110.3 475.0,107.0C477.3,103.7 476.0,105.3 479.0,103.0C482.0,100.7 480.3,102.7 484.0,100.0C487.7,97.3 485.3,97.7 490.0,95.0C494.7,92.3 492.7,92.3 498.0,92.0C503.3,91.7 500.7,92.0 506.0,94.0C511.3,96.0 508.7,95.7 514.0,98.0C519.3,100.3 516.0,100.3 522.0,101.0C528.0,101.7 524.3,101.0 532.0,100.0C539.7,99.0 535.7,98.0 545.0,98.0C554.3,98.0 550.0,98.3 560.0,100.0C570.0,101.7 564.5,102.7 575.0,103.0C585.5,103.3 586.0,101.7 591.5,101.0" stroke="#000" stroke-width="1.1"/>
<path d="M354.5,105.0C356.3,105.7 356.5,105.4 360.0,107.2C363.5,109.0 362.0,108.6 365.0,110.3C368.0,112.0 366.0,113.3 369.0,112.3C372.0,111.3 370.3,110.6 374.0,107.2C377.7,103.8 375.9,104.3 380.0,102.2C384.1,100.1 382.1,103.3 386.2,100.8C390.3,98.3 388.5,98.5 392.2,94.6C395.9,90.7 394.4,90.5 397.4,89.0C400.4,87.5 398.3,87.6 401.3,90.0C404.3,92.4 402.6,91.5 406.3,96.2C410.0,100.9 408.3,99.5 412.3,104.2C416.3,108.9 414.9,109.6 418.3,110.3C421.7,111.0 419.7,111.6 422.4,106.2C425.1,100.8 423.7,102.2 426.4,94.2C429.1,86.2 427.7,89.8 430.4,82.1C433.1,74.4 432.1,75.7 434.4,71.1C436.7,66.5 435.0,68.8 437.4,68.2C439.8,67.6 439.1,66.6 441.5,69.2C443.9,71.8 442.5,68.4 444.5,76.1C446.5,83.8 445.8,80.9 447.5,92.2C449.2,103.5 447.6,96.1 449.5,110.0C451.4,123.9 450.4,118.0 453.3,134.0C456.2,150.0 455.0,145.3 458.2,158.0C461.4,170.7 459.5,172.0 462.9,172.0C466.3,172.0 465.2,170.7 468.3,158.0C471.4,145.3 470.0,150.0 472.3,134.0C474.6,118.0 473.6,124.0 475.3,110.0C477.0,96.0 475.7,104.2 477.3,92.0C478.9,79.8 477.4,86.7 480.1,73.4C482.8,60.1 481.9,63.7 485.4,52.1C488.9,40.5 487.6,44.5 490.7,38.7C493.8,32.9 492.1,34.3 494.8,34.7C497.5,35.1 496.1,34.2 498.8,40.0C501.5,45.8 500.1,44.4 502.8,52.0C505.5,59.6 503.7,56.5 506.8,62.7C509.9,68.9 508.1,66.2 512.1,70.7C516.1,75.2 514.3,73.4 518.8,76.1C523.3,78.8 521.1,76.6 525.5,78.8C529.9,81.0 528.1,79.6 532.1,82.8C536.1,86.0 534.4,83.8 537.5,88.5C540.6,93.2 538.9,91.5 541.5,97.0C544.1,102.5 542.3,99.7 545.3,105.0C548.3,110.3 546.4,108.0 550.4,113.0C554.4,118.0 552.7,116.0 557.4,120.0C562.1,124.0 559.4,122.2 564.4,125.0C569.4,127.8 567.1,125.5 572.5,128.5C577.9,131.5 575.8,130.8 580.5,134.0C585.2,137.2 582.8,135.2 586.5,138.0C590.2,140.8 589.8,141.0 591.5,142.5" stroke="#0000f5" stroke-width="4.6"/>
</g>
<circle cx="151.2" cy="195.5" r="7.1" fill="#ff0000"/>
<circle cx="184.6" cy="81.2" r="7.1" fill="#00ff00"/>
<circle cx="462.9" cy="172.1" r="7.1" fill="#ff0000"/>
<circle cx="72" cy="34.2" r="14.7" fill="none" stroke="#000" stroke-width="2"/>
<circle cx="382.7" cy="32" r="14.7" fill="none" stroke="#000" stroke-width="2"/>
<g font-family="'Liberation Sans', Arial, sans-serif" fill="#111" font-size="14">
<text transform="translate(71.50,38.50) scale(1,1.0)" text-anchor="middle" font-size="18">a</text>
<text transform="translate(383.30,37.80) scale(1,1.0)" text-anchor="middle" font-size="18">b</text>
<text transform="translate(42.50,340.30) scale(1,1.1)" text-anchor="middle">0</text>
<text transform="translate(87.90,340.30) scale(1,1.1)" text-anchor="middle">0.1</text>
<text transform="translate(135.40,340.30) scale(1,1.1)" text-anchor="middle">0.2</text>
<text transform="translate(182.90,340.30) scale(1,1.1)" text-anchor="middle">0.3</text>
<text transform="translate(230.40,340.30) scale(1,1.1)" text-anchor="middle">0.4</text>
<text transform="translate(277.90,340.30) scale(1,1.1)" text-anchor="middle">0.5</text>
<text transform="translate(354.50,340.30) scale(1,1.1)" text-anchor="middle">0</text>
<text transform="translate(399.80,340.30) scale(1,1.1)" text-anchor="middle">0.1</text>
<text transform="translate(447.20,340.30) scale(1,1.1)" text-anchor="middle">0.2</text>
<text transform="translate(494.60,340.30) scale(1,1.1)" text-anchor="middle">0.3</text>
<text transform="translate(542.00,340.30) scale(1,1.1)" text-anchor="middle">0.4</text>
<text transform="translate(589.40,340.30) scale(1,1.1)" text-anchor="middle">0.5</text>
<text transform="translate(37.20,10.70) scale(1,1.1)" text-anchor="end">12</text>
<text transform="translate(37.20,42.45) scale(1,1.1)" text-anchor="end">10</text>
<text transform="translate(37.20,74.20) scale(1,1.1)" text-anchor="end">8</text>
<text transform="translate(37.20,105.95) scale(1,1.1)" text-anchor="end">6</text>
<text transform="translate(37.20,137.70) scale(1,1.1)" text-anchor="end">4</text>
<text transform="translate(37.20,169.45) scale(1,1.1)" text-anchor="end">2</text>
<text transform="translate(37.20,201.20) scale(1,1.1)" text-anchor="end">0</text>
<text transform="translate(37.20,232.95) scale(1,1.1)" text-anchor="end">-2</text>
<text transform="translate(37.20,264.70) scale(1,1.1)" text-anchor="end">-4</text>
<text transform="translate(37.20,296.45) scale(1,1.1)" text-anchor="end">-6</text>
<text transform="translate(37.20,328.20) scale(1,1.1)" text-anchor="end">-8</text>
<text transform="translate(348.80,10.70) scale(1,1.1)" text-anchor="end">3</text>
<text transform="translate(348.80,42.45) scale(1,1.1)" text-anchor="end">2</text>
<text transform="translate(348.80,74.20) scale(1,1.1)" text-anchor="end">1</text>
<text transform="translate(348.80,105.95) scale(1,1.1)" text-anchor="end">0</text>
<text transform="translate(348.80,137.70) scale(1,1.1)" text-anchor="end">-1</text>
<text transform="translate(348.80,169.45) scale(1,1.1)" text-anchor="end">-2</text>
<text transform="translate(348.80,201.20) scale(1,1.1)" text-anchor="end">-3</text>
<text transform="translate(348.80,232.95) scale(1,1.1)" text-anchor="end">-4</text>
<text transform="translate(348.80,264.70) scale(1,1.1)" text-anchor="end">-5</text>
<text transform="translate(348.80,296.45) scale(1,1.1)" text-anchor="end">-6</text>
<text transform="translate(348.80,328.20) scale(1,1.1)" text-anchor="end">-7</text>
<text transform="translate(159.00,358.90) scale(1,1.1)" text-anchor="middle" letter-spacing="0.08">Time after cue (s)</text>
<text transform="translate(471.00,358.90) scale(1,1.1)" text-anchor="middle" letter-spacing="0.08">Time after cue (s)</text>
<text transform="translate(10.50,164.60) rotate(-90) scale(1,1.1)" text-anchor="middle" letter-spacing="0.14">Channel P3 amplitude (μV)</text>
<text transform="translate(325.00,165.00) rotate(-90) scale(1,1.1)" text-anchor="middle" letter-spacing="0.21">Occipito-Temporal N2 Component amplitude (μV)</text>
</g>
</svg>
</body></html>
